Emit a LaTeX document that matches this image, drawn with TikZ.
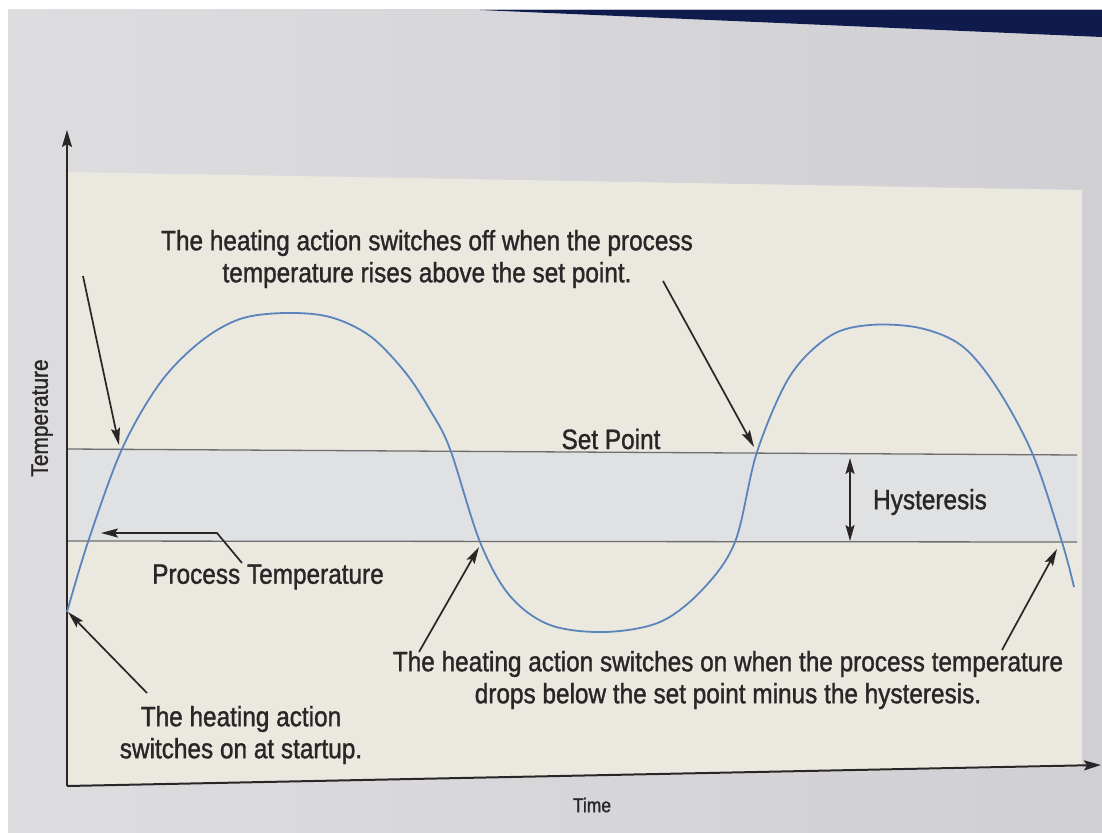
\documentclass[tikz,border=0pt]{standalone}
\usepackage{fontspec}
\setmainfont{Liberation Sans}[FakeStretch=0.87,FakeBold=1.2]
\usetikzlibrary{arrows.meta}
\definecolor{bgA}{HTML}{DDDDE0}
\definecolor{bgB}{HTML}{D0D0D4}
\definecolor{beige}{HTML}{EBE8E0}
\definecolor{band}{HTML}{DFE1E2}
\definecolor{navy}{HTML}{0F1B4C}
\definecolor{curvec}{HTML}{5B84BC}
\definecolor{ink}{HTML}{2A2527}
\definecolor{refline}{HTML}{6E6E6E}
\begin{document}
\begin{tikzpicture}[x=1pt,y=-1pt,
  lbl/.style={text=ink, align=center, inner sep=0pt,
    font=\fontsize{28}{32}\selectfont},
  small/.style={text=ink, inner sep=0pt, font=\fontsize{20}{24}\selectfont},
  ptr/.style={draw=ink, line width=1.7pt, -{Stealth[length=17pt,width=9pt,inset=3pt]}},
  dptr/.style={draw=ink, line width=1.7pt, {Stealth[length=16pt,width=9pt,inset=3pt]}-{Stealth[length=16pt,width=9pt,inset=3pt]}},
  axis/.style={draw=ink, line width=2pt, -{Stealth[length=17pt,width=10pt,inset=3pt]}},
  refl/.style={draw=refline, line width=1.3pt},
  curvestyle/.style={draw=curvec, line width=1.8pt}
]
\useasboundingbox (0,0) rectangle (1102,832);
% background (screen photo)
\fill[white] (0,0) rectangle (1102,832);
\shade[left color=bgA, right color=bgB] (8,10) rectangle (1102,832);
\fill[navy] (480,10) -- (1102,10) -- (1102,37) -- cycle;
\fill[beige] (67,172) -- (1082,190) -- (1082,767) -- (67,786) -- cycle;
\fill[band] (67,449) -- (1077,455) -- (1077,542) -- (67,541) -- cycle;

% reference lines
\coordinate (spL) at (67,449);
\coordinate (spR) at (1077,455);
\coordinate (hyL) at (67,541);
\coordinate (hyR) at (1077,542);
\draw[refl] (spL) -- (spR);
\draw[refl] (hyL) -- (hyR);

% axes
\coordinate (O) at (67,786);
\coordinate (Ytop) at (67,130);
\coordinate (Xend) at (1101,765);
\draw[axis] (O) -- (Ytop);
\draw[axis] (O) -- (Xend);

% process temperature curve
\draw[curvestyle] plot[smooth, tension=0.55] coordinates {
 (67,612) (88,542) (122,449) (160,383) (200,342) (240,319) (285,313)
 (330,317) (370,336) (405,372) (430,410) (450,449) (480,542) (510,596)
 (550,625) (605,632) (660,622) (702,590) (735,542) (757,452) (790,376)
 (830,336) (870,325) (920,328) (962,346) (997,388) (1033,455) (1062,542)
 (1074,587)};

% labels
\node[lbl] (off) at (427,259) {The heating action switches off when the process\\temperature rises above the set point.};
\node[lbl] (on) at (728,680) {The heating action switches on when the process temperature\\drops below the set point minus the hysteresis.};
\node[lbl] (start) at (241,735) {The heating action\\switches on at startup.};
\node[lbl] (pt) at (268,577) {Process Temperature};
\node[lbl] (sp) at (611,439) {Set Point};
\node[lbl] (hy) at (930,502) {Hysteresis};
\node[small] (time) at (592,805) {Time};
\node[small, rotate=90, font=\fontsize{24}{28}\selectfont] (temp) at (42,418) {Temperature};

% connectors
\coordinate (a1s) at (83,276);  \coordinate (a1e) at (119,445);
\coordinate (a2s) at (663,281); \coordinate (a2e) at (754,447);
\coordinate (a3s) at (419,652); \coordinate (a3e) at (479,547);
\coordinate (a4s) at (1002,650);\coordinate (a4e) at (1057,549);
\coordinate (a5s) at (147,693); \coordinate (a5e) at (68,612);
\coordinate (p1) at (242,563);  \coordinate (p2) at (217,533); \coordinate (p3) at (101,533);
\coordinate (h1) at (850,458);  \coordinate (h2) at (850,541);
\draw[ptr] (a1s) -- (a1e);
\draw[ptr] (a2s) -- (a2e);
\draw[ptr] (a3s) -- (a3e);
\draw[ptr] (a4s) -- (a4e);
\draw[ptr] (a5s) -- (a5e);
\draw[ptr] (p1) -- (p2) -- (p3);
\draw[dptr] (h1) -- (h2);
\end{tikzpicture}
\end{document}
